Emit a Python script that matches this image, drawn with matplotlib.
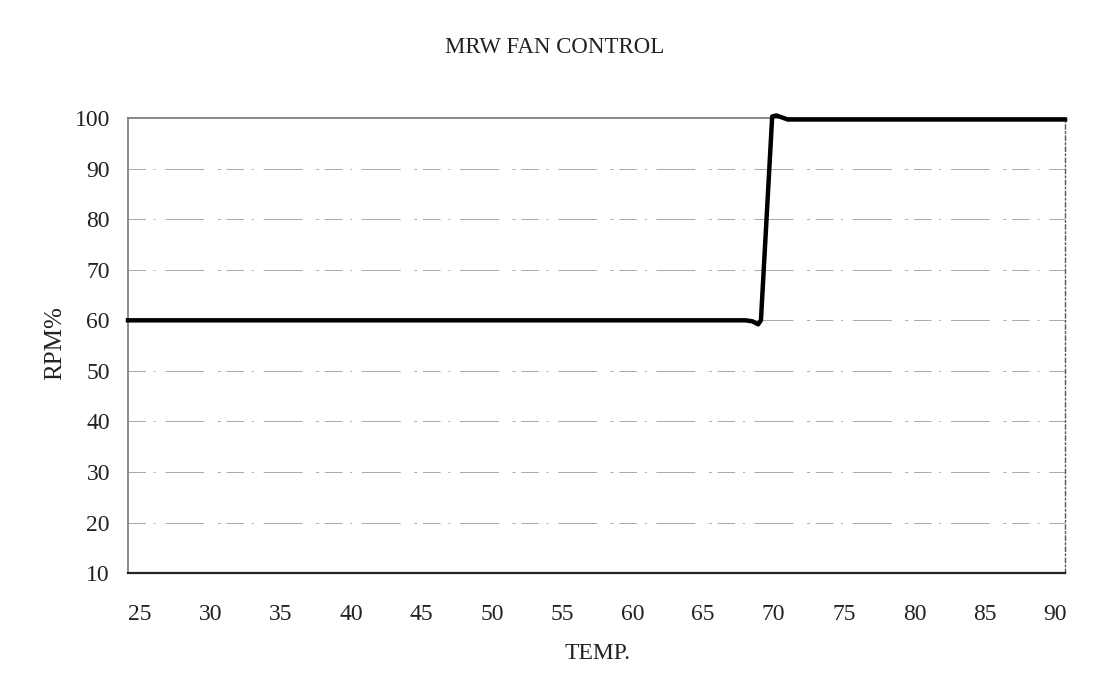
import matplotlib
matplotlib.use("Agg")
import matplotlib.pyplot as plt

# fan curve
temps = [24.15, 68.0, 68.5, 68.9, 69.1, 69.9, 70.2, 71.0, 90.7]
rpm = [60.0, 60.0, 59.8, 59.2, 60.0, 100.3, 100.5, 99.7, 99.7]

x_ticks = [25, 30, 35, 40, 45, 50, 55, 60, 65, 70, 75, 80, 85, 90]
y_ticks = [10, 20, 30, 40, 50, 60, 70, 80, 90, 100]

plt.rcParams['font.family'] = ['Liberation Serif', 'DejaVu Serif']

fig = plt.figure(figsize=(10.98, 6.94), dpi=100)
ax = fig.add_axes([0.1166, 0.174, 0.8534, 0.656])

# faint broken gridlines like the scanned original
for y in y_ticks[1:-1]:
    ax.axhline(y, color="#a8a8a8", linewidth=0.7, linestyle=(0, (18, 8, 2, 10, 40, 14, 3, 6)), zorder=1)

ax.plot(temps, rpm, color="black", linewidth=3.2, solid_joinstyle="round", zorder=3, clip_on=False)

ax.set_xlim(24.15, 90.7)
ax.set_ylim(10, 100)
ax.set_xticks(x_ticks)
ax.set_yticks(y_ticks)
ax.tick_params(axis="both", length=0, labelsize=17, labelcolor="#222222")
ax.tick_params(axis="x", pad=22)
ax.tick_params(axis="y", pad=13)

for side in ["top", "left"]:
    ax.spines[side].set_color("#777777")
    ax.spines[side].set_linestyle((0, (1, 1)))
    ax.spines[side].set_linewidth(1.2)
ax.spines["right"].set_color("#555555")
ax.spines["right"].set_linestyle((0, (3, 2, 1, 2)))
ax.spines["right"].set_linewidth(1.0)
ax.spines["bottom"].set_color("#222222")
ax.spines["bottom"].set_linewidth(1.6)

fig.text(0.505, 0.932, "MRW FAN CONTROL", ha="center", va="center", fontsize=16.5, color="#222222")
fig.text(0.544, 0.059, "TEMP.", ha="center", va="center", fontsize=17, color="#222222")
fig.text(0.050, 0.506, "RPM%", ha="center", va="center", rotation=90, fontsize=18, color="#222222")

fig.savefig("out.png", dpi=100, facecolor="white")
